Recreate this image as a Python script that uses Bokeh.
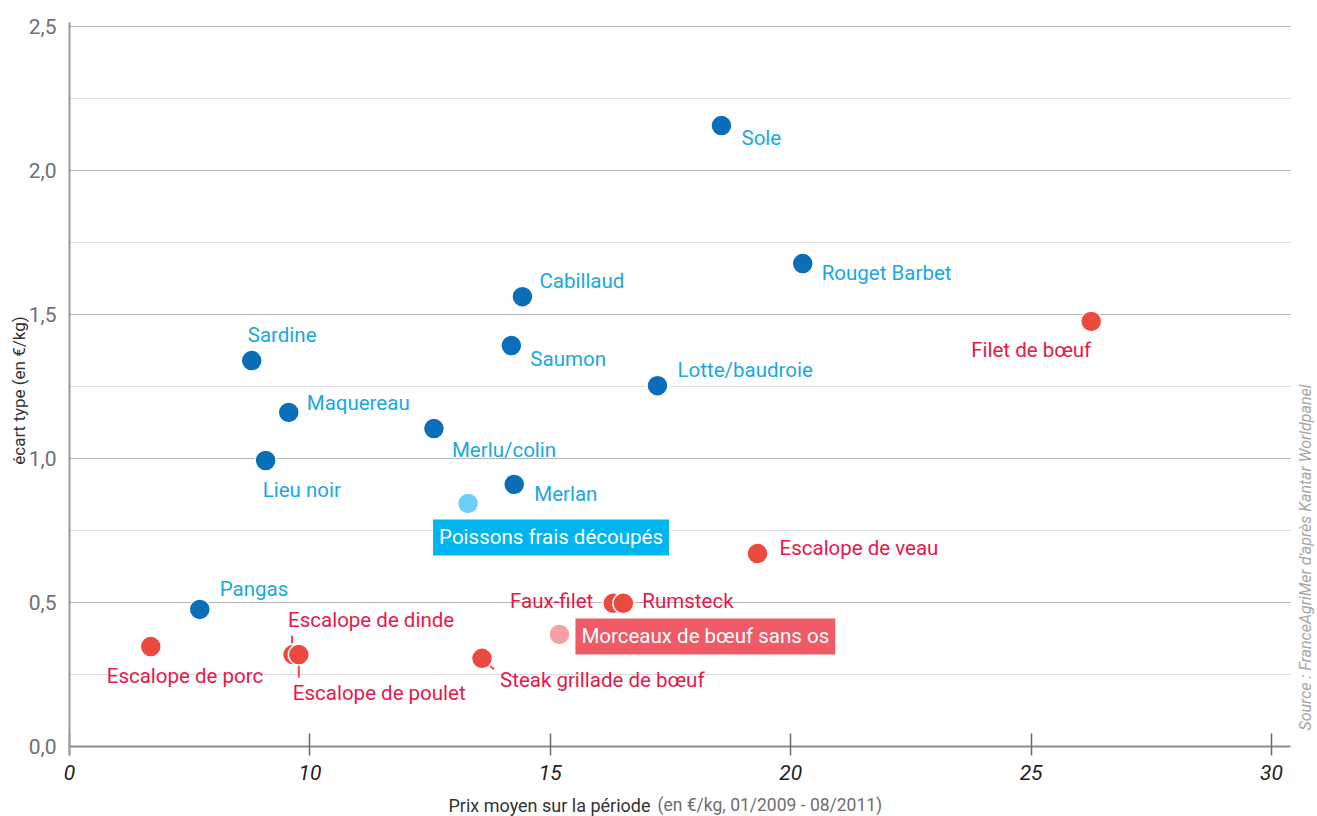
from bokeh.plotting import figure
from bokeh.models import Range1d, FixedTicker, Label, Grid
from bokeh.embed import file_html
from bokeh.resources import INLINE
import math

# ---------------- data ----------------
fish_names = ["Sole", "Rouget Barbet", "Cabillaud", "Saumon", "Lotte/baudroie", "Sardine",
              "Maquereau", "Merlu/colin", "Lieu noir", "Merlan", "Pangas"]
fish_price = [18.56, 20.25, 14.42, 14.19, 17.23, 8.79, 9.56, 12.58, 9.08, 14.25, 7.71]
fish_sd = [2.156, 1.677, 1.562, 1.392, 1.253, 1.340, 1.160, 1.104, 0.993, 0.910, 0.476]

meat_names = ["Filet de bœuf", "Escalope de veau", "Faux-filet", "Rumsteck", "Steak grillade de bœuf",
              "Escalope de porc", "Escalope de dinde", "Escalope de poulet"]
meat_price = [26.25, 19.31, 16.31, 16.52, 13.58, 6.69, 9.65, 9.77]
meat_sd = [1.476, 0.670, 0.497, 0.497, 0.306, 0.347, 0.319, 0.319]

avg_names = ["Poissons frais découpés", "Morceaux de bœuf sans os"]
avg_price = [13.29, 15.19]
avg_sd = [0.844, 0.389]

x_ticks = [5, 10, 15, 20, 25, 30]
x_tick_labels = ["0", "10", "15", "20", "25", "30"]
y_ticks = [0.0, 0.5, 1.0, 1.5, 2.0, 2.5]
y_tick_labels = ["0,0", "0,5", "1,0", "1,5", "2,0", "2,5"]

# ---------------- layout / style ----------------
W, H = 1317, 816
X_START, X_END = 3.565, 30.957      # whole canvas is the frame
Y_START, Y_END = -0.2431, 2.5903
kx = W / (X_END - X_START)
ky = H / (Y_END - Y_START)
X_AXIS_END = 30.4                   # right end of the grid lines
Y_AXIS_BOTTOM, Y_AXIS_TOP = -0.031, 2.514

FISH_DOT = "#0a6fb8"
FISH_TXT = "#19a8e2"
MEAT_DOT = "#ec4a40"
MEAT_TXT = "#e5194b"
FONT = "Roboto"
LABEL_SIZE = "20.5px"

# label placement: (dx px, dy px downward, align)
offsets = {
    "Sole": (20, 12, "left"),
    "Rouget Barbet": (19, 9, "left"),
    "Cabillaud": (17, -16, "left"),
    "Saumon": (19, 13, "left"),
    "Lotte/baudroie": (20, -16, "left"),
    "Sardine": (-4, -26, "left"),
    "Maquereau": (18, -9, "left"),
    "Merlu/colin": (18, 21, "left"),
    "Lieu noir": (-3, 29, "left"),
    "Merlan": (20, 10, "left"),
    "Pangas": (20, -20, "left"),
    "Filet de bœuf": (-120, 29, "left"),
    "Escalope de veau": (22, -6, "left"),
    "Faux-filet": (-20, -2, "right"),
    "Rumsteck": (19, -2, "left"),
    "Steak grillade de bœuf": (18, 22, "left"),
    "Escalope de porc": (-44, 29, "left"),
    "Escalope de dinde": (-5, -35, "left"),
    "Escalope de poulet": (-6, 38, "left"),
    "Poissons frais découpés": (-35, 34, "left"),
    "Morceaux de bœuf sans os": (16, 2, "left"),
}

p = figure(frame_width=W, frame_height=H, min_border=0,
           x_range=Range1d(X_START, X_END), y_range=Range1d(Y_START, Y_END),
           output_backend="svg", toolbar_location=None,
           background_fill_color="white", border_fill_color="white")
p.outline_line_color = None

# grid
p.xgrid.grid_line_color = None
p.ygrid.ticker = FixedTicker(ticks=[0.5, 1.0, 1.5, 2.0, 2.5], minor_ticks=[0.25, 0.75, 1.25, 1.75, 2.25])
p.ygrid.cross_bounds = (x_ticks[0], X_AXIS_END)
p.ygrid.grid_line_color = "#b3b3b3"
p.ygrid.grid_line_width = 1.2
p.ygrid.minor_grid_line_color = "#dcdcdc"
p.ygrid.minor_grid_line_width = 1.2
p.add_layout(Grid(dimension=1, ticker=FixedTicker(ticks=[0.0]), cross_bounds=(x_ticks[0], X_AXIS_END),
                  grid_line_color="#8c8c8c", grid_line_width=2))

# y axis
p.yaxis.fixed_location = x_ticks[0]
p.yaxis.bounds = (Y_AXIS_BOTTOM, Y_AXIS_TOP)
p.yaxis.ticker = FixedTicker(ticks=y_ticks, minor_ticks=[])
p.yaxis.major_label_overrides = dict(zip(y_ticks, y_tick_labels))
p.yaxis.axis_line_color = "#9a9a9a"
p.yaxis.axis_line_width = 2
p.yaxis.major_tick_line_color = None
p.yaxis.minor_tick_line_color = None
p.yaxis.major_label_text_font = FONT
p.yaxis.major_label_text_font_size = "21px"
p.yaxis.major_label_text_color = "#707070"
p.yaxis.major_label_standoff = 7

# x axis
p.xaxis.fixed_location = Y_AXIS_BOTTOM
p.xaxis.ticker = FixedTicker(ticks=x_ticks, minor_ticks=[])
p.xaxis.major_label_overrides = dict(zip(x_ticks, x_tick_labels))
p.xaxis.axis_line_color = None
p.xaxis.major_tick_line_color = "#6a6a6a"
p.xaxis.major_tick_line_width = 1.5
p.xaxis.major_tick_in = 22
p.xaxis.major_tick_out = 0
p.xaxis.minor_tick_line_color = None
p.xaxis.major_label_text_font = FONT
p.xaxis.major_label_text_font_style = "italic"
p.xaxis.major_label_text_font_size = "21px"
p.xaxis.major_label_text_color = "#222222"
p.xaxis.major_label_standoff = 10

# leader lines (pixel offsets from the point, converted to data units)
def lead(name, a, b):
    i = meat_names.index(name)
    x, y = meat_price[i], meat_sd[i]
    return ([x + a[0] / kx, x + b[0] / kx], [y - a[1] / ky, y - b[1] / ky])

for name, a, b in [("Escalope de dinde", (-1, -19), (-1, -6)),
                   ("Escalope de poulet", (0, 8), (0, 23)),
                   ("Steak grillade de bœuf", (5, 5), (12, 11))]:
    xs, ys = lead(name, a, b)
    p.line(xs, ys, line_color=MEAT_DOT, line_width=2)

# points
p.scatter(x=fish_price, y=fish_sd, size=21, fill_color=FISH_DOT, line_color="white", line_width=1.5)
p.scatter(x=meat_price, y=meat_sd, size=21, fill_color=MEAT_DOT, line_color="white", line_width=1.5)
p.scatter(x=avg_price, y=avg_sd, size=21, fill_color=["#6dcff6", "#f4a1a3"], line_color="white", line_width=1.5)

def add_label(name, x, y, color, bg=None):
    dx, dy, align = offsets[name]
    kw = {}
    if bg is not None:
        kw = dict(background_fill_color=bg, padding=6)
    p.add_layout(Label(x=x, y=y, x_offset=dx, y_offset=-dy, text=name, text_font=FONT,
                       text_font_size=LABEL_SIZE, text_color=color, text_align=align,
                       text_baseline="middle", **kw))

for n, x, y in zip(fish_names, fish_price, fish_sd):
    add_label(n, x, y, FISH_TXT)
for n, x, y in zip(meat_names, meat_price, meat_sd):
    add_label(n, x, y, MEAT_TXT)
add_label(avg_names[0], avg_price[0], avg_sd[0], "white", bg="#00b4ef")
add_label(avg_names[1], avg_price[1], avg_sd[1], "white", bg="#ef5a66")

# axis titles and source
p.add_layout(Label(x=x_ticks[0], y=1.236, x_offset=-50, text="écart type (en €/kg)",
                   angle=math.pi / 2, text_align="center", text_baseline="middle",
                   text_font=FONT, text_font_size="17px", text_color="#333333"))
p.add_layout(Label(x=x_ticks[0] + (448 - 69) / kx, y=Y_AXIS_BOTTOM, y_offset=-50,
                   text="Prix moyen sur la période", text_align="left", text_baseline="middle",
                   text_font=FONT, text_font_size="18px", text_color="#333333"))
p.add_layout(Label(x=x_ticks[0] + (657 - 69) / kx, y=Y_AXIS_BOTTOM, y_offset=-50,
                   text="(en €/kg, 01/2009 - 08/2011)", text_align="left", text_baseline="middle",
                   text_font=FONT, text_font_size="17.5px", text_color="#6e6e6e"))
p.add_layout(Label(x=X_AXIS_END, y=0, x_offset=15, y_offset=189,
                   text="Source : FranceAgriMer d'après Kantar Worldpanel",
                   angle=math.pi / 2, text_align="center", text_baseline="middle",
                   text_font=FONT, text_font_size="16px", text_font_style="italic",
                   text_color="#a6a6a6"))

open("out.html", "w").write(file_html(p, INLINE))
